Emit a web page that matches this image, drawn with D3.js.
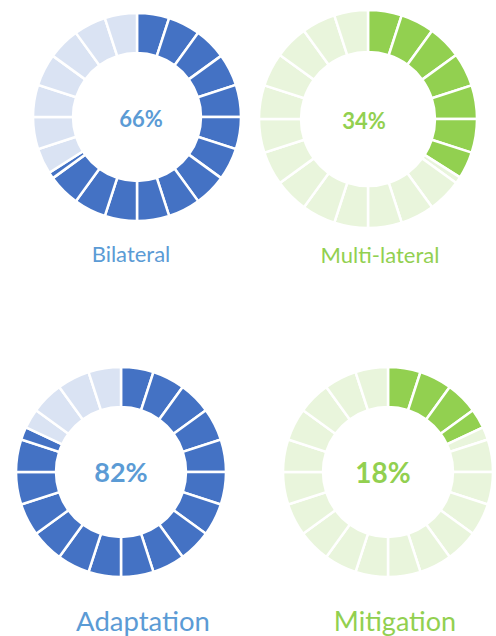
<!DOCTYPE html>
<html>
<head>
<meta charset="utf-8">
<script src="https://cdnjs.cloudflare.com/ajax/libs/d3/7.8.5/d3.min.js"></script>
<style>
  body { margin: 0; background: #fff; }
  text { font-family: Lato, "Open Sans", sans-serif; }
</style>
</head>
<body>
<div id="chart"></div>
<script>
// data
var categories = ["Bilateral", "Multi-lateral", "Adaptation", "Mitigation"];
var values = [66, 34, 82, 18];
var segmentCount = 20;

// layout of the four rings (centre, radii, text)
var layout = [
  { cx: 137, cy: 117, outer: 104, inner: 64, pctX: 141, pctY: 118, pctSize: 22, labY: 262, labX: 131, labSize: 22, theme: "blue" },
  { cx: 368, cy: 119, outer: 109, inner: 67, pctX: 364, pctY: 120, pctSize: 22, labY: 263, labX: 380, labSize: 22, theme: "green" },
  { cx: 121, cy: 472, outer: 105, inner: 65, pctX: 121, pctY: 471, pctSize: 27, labY: 631, labX: 143, labSize: 27.5, theme: "blue" },
  { cx: 388, cy: 472, outer: 105, inner: 65, pctX: 383, pctY: 472, pctSize: 28, labY: 631, labX: 395, labSize: 27, theme: "green" }
];

var colors = {
  blue:  { dark: "#4472C4", light: "#DAE3F3", text: "#5B9BD5" },
  green: { dark: "#92D050", light: "#E9F5DC", text: "#92D050" }
};

var svg = d3.select("#chart").append("svg")
  .attr("width", 496)
  .attr("height", 636);

var angle = d3.scaleLinear().domain([0, 100]).range([0, 2 * Math.PI]);

function pieces(val) {
  // boundaries at each 5% segment plus the value itself
  var step = 100 / segmentCount;
  var cuts = d3.range(0, segmentCount + 1).map(function (i) { return i * step; });
  if (cuts.indexOf(val) == -1) cuts.push(val);
  cuts.sort(function (a, b) { return a - b; });
  var out = [];
  for (var i = 0; i < cuts.length - 1; i++) {
    out.push({ start: cuts[i], end: cuts[i + 1], filled: cuts[i + 1] <= val });
  }
  return out;
}

categories.forEach(function (name, i) {
  var L = layout[i];
  var c = colors[L.theme];
  var g = svg.append("g").attr("transform", "translate(" + L.cx + "," + L.cy + ")");

  var arc = d3.arc()
    .innerRadius(L.inner)
    .outerRadius(L.outer)
    .startAngle(function (d) { return angle(d.start); })
    .endAngle(function (d) { return angle(d.end); });

  g.selectAll("path")
    .data(pieces(values[i]))
    .enter().append("path")
    .attr("d", arc)
    .attr("fill", function (d) { return d.filled ? c.dark : c.light; })
    .attr("stroke", "#fff")
    .attr("stroke-width", 2.5)
    .attr("stroke-linejoin", "miter");

  svg.append("text")
    .attr("x", L.pctX)
    .attr("y", L.pctY)
    .attr("text-anchor", "middle")
    .attr("dominant-baseline", "central")
    .attr("font-size", L.pctSize)
    .attr("font-weight", "bold")
    .attr("fill", c.text)
    .text(values[i] + "%");

  svg.append("text")
    .attr("x", L.labX)
    .attr("y", L.labY)
    .attr("text-anchor", "middle")
    .attr("font-size", L.labSize)
    .attr("fill", c.text)
    .text(name);
});
</script>
</body>
</html>
